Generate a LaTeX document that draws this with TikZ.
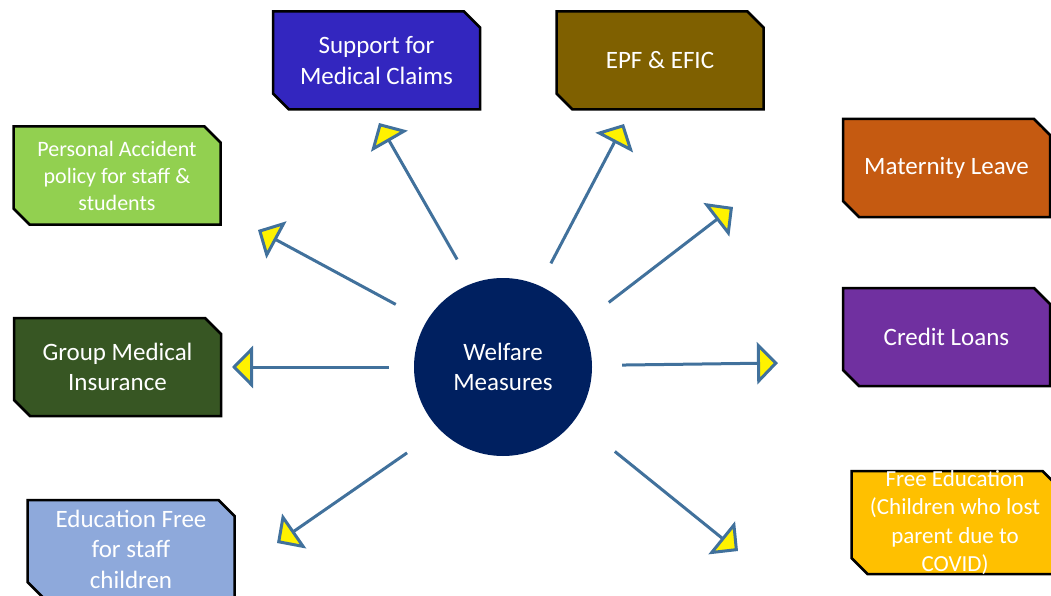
\documentclass[tikz,border=0pt]{standalone}
\usepackage{fontspec}
\setmainfont{Carlito}
\usepackage{tikz}
\usetikzlibrary{shapes.misc}
\usetikzlibrary{arrows.meta}
\definecolor{arrowblue}{RGB}{65,113,156}
\definecolor{hubnavy}{RGB}{0,32,96}
\definecolor{claimblue}{RGB}{51,38,191}
\definecolor{epfolive}{RGB}{127,96,0}
\definecolor{accgreen}{RGB}{146,208,80}
\definecolor{matorange}{RGB}{197,90,17}
\definecolor{loanpurple}{RGB}{112,48,160}
\definecolor{insgreen}{RGB}{55,86,35}
\definecolor{edublue}{RGB}{142,169,219}
\definecolor{covidgold}{RGB}{255,192,0}

\begin{document}
\begin{tikzpicture}[x=1pt,y=-1pt,
			wbox/.style={chamfered rectangle, chamfered rectangle corners={north east,south west},
				chamfered rectangle xsep=8pt, chamfered rectangle ysep=8pt, inner ysep=0pt,
				draw=black, line width=2.5pt, minimum width=207pt, minimum height=98pt,
				text=white, align=center, font=\fontsize{25}{30.5}\selectfont},
			conn/.style={draw=arrowblue, line width=3pt, -{Triangle[length=21pt,width=42pt,fill=yellow]}}
		]
		\useasboundingbox (0,0) rectangle (1051,596);

		\node[circle, fill=hubnavy, minimum size=178pt, inner sep=0pt, text=white, align=center,
			font=\fontsize{25}{30.5}\selectfont] (wm) at (503,367) {Welfare\\Measures};

		\node[wbox, fill=claimblue] (claims) at (376.5,60.5) {Support for\\Medical Claims};
		\node[wbox, fill=epfolive] (epf) at (660,60.5) {EPF \& EFIC};
		\node[wbox, fill=accgreen, font=\fontsize{22}{27}\selectfont] (accident) at (117,175.5) {Personal Accident\\policy for staff \&\\students};
		\node[wbox, fill=matorange] (maternity) at (946.5,168) {Maternity Leave};
		\node[wbox, fill=loanpurple] (loans) at (946.5,337) {Credit Loans};
		\node[wbox, fill=insgreen] (insurance) at (117.5,367) {Group Medical\\Insurance};
		\node[wbox, fill=edublue] (stafffree) at (131,549) {Education Free\\for staff\\children};
		\node[wbox, fill=covidgold, minimum height=103pt, inner ysep=-12pt, font=\fontsize{23}{28.5}\selectfont] (covid) at (955,522.5) {Free Education\\(Children who lost\\parent due to\\COVID)};

		\coordinate (accident-tip) at (258,230);
		\coordinate (claims-tip) at (379,123);
		\coordinate (epf-tip) at (624,124);
		\coordinate (maternity-tip) at (733,207);
		\coordinate (loans-tip) at (778,363);
		\coordinate (insurance-tip) at (232,367);
		\coordinate (stafffree-tip) at (277,543);
		\coordinate (covid-tip) at (738,551);

		\draw[conn, shorten <=35pt] (wm.149) -- (accident-tip);
		\draw[conn, shorten <=28pt] (wm.111) -- (claims-tip);
		\draw[conn, shorten <=25pt] (wm.66) -- (epf-tip);
		\draw[conn, shorten <=35pt] (wm.29.5) -- (maternity-tip);
		\draw[conn, shorten <=30pt] (wm.1.9) -- (loans-tip);
		\draw[conn, shorten <=25pt] (wm.180) -- (insurance-tip);
		\draw[conn, shorten <=40pt] (wm.225.3) -- (stafffree-tip);
		\draw[conn, shorten <=51pt] (wm.324.3) -- (covid-tip);

	\end{tikzpicture}
\end{document}
